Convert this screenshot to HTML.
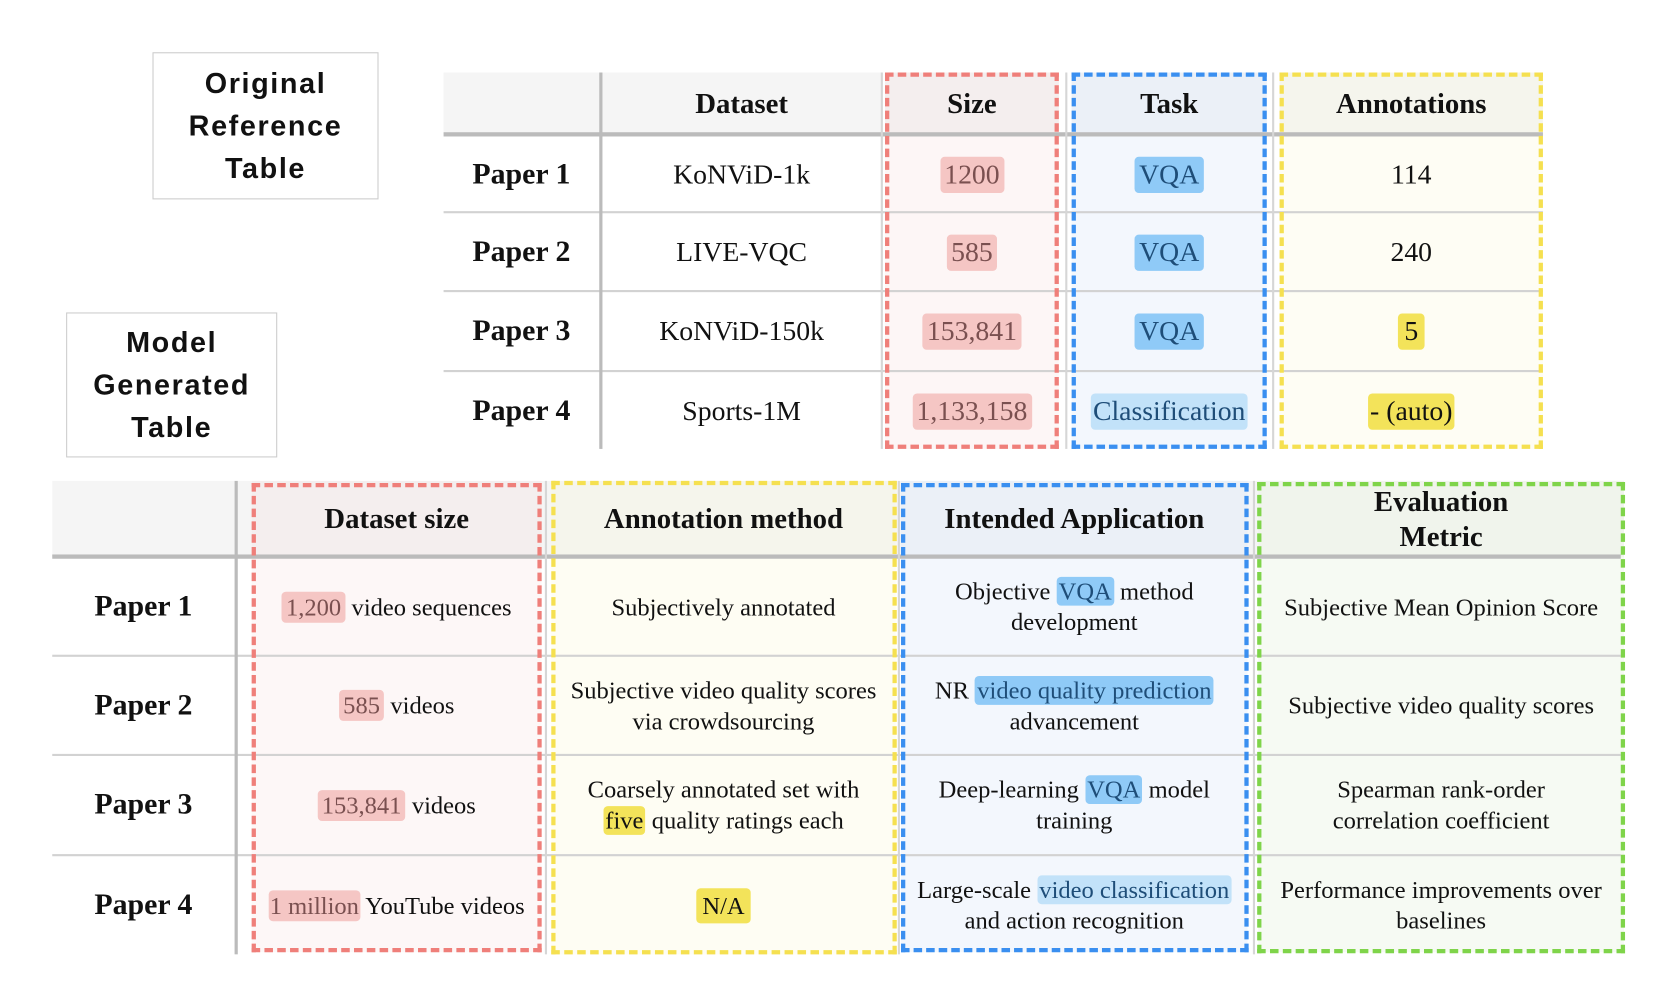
<!DOCTYPE html>
<html><head><meta charset="utf-8"><style>
html,body{margin:0;padding:0;background:#fff;}
body{width:1672px;height:1006px;overflow:hidden;position:relative;}
#w{position:absolute;left:0;top:0;width:1568px;height:944px;transform:scale(1.0663);transform-origin:0 0;font-family:"Liberation Serif",serif;color:#111;}
.a{position:absolute;box-sizing:border-box;}
.lbl{border:1.5px solid #ccc;font-family:"Liberation Sans",sans-serif;font-weight:900;font-size:27px;letter-spacing:1.5px;text-align:center;display:flex;align-items:center;justify-content:center;line-height:40px;background:#fff;}
.c{position:absolute;box-sizing:border-box;display:flex;align-items:center;justify-content:center;text-align:center;}
.t{font-size:26px;}
.b{font-size:23px;line-height:29px;}
.h{font-weight:bold;font-size:27px;}
.pr{font-weight:bold;font-size:28px;}
.r{background:#f5c6c4;color:#7a5050;border-radius:4px;padding:2px 4px;}
.bl{background:#8fcaf7;color:#1e4d78;border-radius:4px;padding:2px 4px;}
.bl2{background:#c2e2f9;color:#1e4d78;border-radius:4px;padding:2px 4px;}
.y{background:#f3e35a;border-radius:4px;padding:2px 6px;}
.hl{background:#bbb;}
.ln{background:#d2d2d2;}
.vl{background:#d6d6d6;}
</style></head><body><div id="w">

<div class="a lbl" style="left:143px;top:49px;width:212px;height:138px;">Original<br>Reference<br>Table</div>
<div class="a lbl" style="left:62px;top:293px;width:198px;height:136px;">Model<br>Generated<br>Table</div>

<!-- TOP TABLE -->
<div class="a" style="left:416px;top:68px;width:411px;height:58px;background:#f5f5f5;"></div>
<div class="a" style="left:830px;top:68px;width:163px;height:353px;background:#fdf6f6;"></div>
<div class="a" style="left:830px;top:68px;width:163px;height:58px;background:#f4eeee;"></div>
<div class="a" style="left:1005px;top:68px;width:183px;height:353px;background:#f3f7fd;"></div>
<div class="a" style="left:1005px;top:68px;width:183px;height:58px;background:#ebf0f7;"></div>
<div class="a" style="left:1200px;top:68px;width:247px;height:353px;background:#fefdf4;"></div>
<div class="a" style="left:1200px;top:68px;width:247px;height:58px;background:#f5f5ed;"></div>

<div class="a hl" style="left:416px;top:124px;width:1031px;height:4px;"></div>
<div class="a ln" style="left:416px;top:198px;width:1031px;height:2px;"></div>
<div class="a ln" style="left:416px;top:272px;width:1031px;height:2px;"></div>
<div class="a ln" style="left:416px;top:347px;width:1031px;height:2px;"></div>
<div class="a hl" style="left:562px;top:68px;width:3px;height:353px;"></div>
<div class="a vl" style="left:826px;top:68px;width:1.5px;height:353px;"></div>
<div class="a vl" style="left:999px;top:68px;width:1.5px;height:353px;"></div>
<div class="a vl" style="left:1193px;top:68px;width:1.5px;height:353px;"></div>

<div class="a" style="left:830px;top:68px;width:163px;height:353px;border:4px dashed #ef7f7a;"></div>
<div class="a" style="left:1005px;top:68px;width:183px;height:353px;border:4px dashed #3a8ff0;"></div>
<div class="a" style="left:1200px;top:68px;width:247px;height:353px;border:4px dashed #f5e050;"></div>

<div class="c t h" style="left:564px;top:68px;width:263px;height:58px;">Dataset</div>
<div class="c t h" style="left:830px;top:68px;width:163px;height:58px;">Size</div>
<div class="c t h" style="left:1005px;top:68px;width:183px;height:58px;">Task</div>
<div class="c t h" style="left:1200px;top:68px;width:247px;height:58px;">Annotations</div>

<div class="c pr" style="left:416px;top:128px;width:146px;height:71px;">Paper 1</div>
<div class="c pr" style="left:416px;top:200px;width:146px;height:73px;">Paper 2</div>
<div class="c pr" style="left:416px;top:274px;width:146px;height:74px;">Paper 3</div>
<div class="c pr" style="left:416px;top:349px;width:146px;height:74px;">Paper 4</div>

<div class="c t" style="left:564px;top:128px;width:263px;height:71px;">KoNViD-1k</div>
<div class="c t" style="left:564px;top:200px;width:263px;height:73px;">LIVE-VQC</div>
<div class="c t" style="left:564px;top:274px;width:263px;height:74px;">KoNViD-150k</div>
<div class="c t" style="left:564px;top:349px;width:263px;height:74px;">Sports-1M</div>

<div class="c t" style="left:830px;top:128px;width:163px;height:71px;"><span class="r">1200</span></div>
<div class="c t" style="left:830px;top:200px;width:163px;height:73px;"><span class="r">585</span></div>
<div class="c t" style="left:830px;top:274px;width:163px;height:74px;"><span class="r">153,841</span></div>
<div class="c t" style="left:830px;top:349px;width:163px;height:74px;"><span class="r">1,133,158</span></div>

<div class="c t" style="left:1005px;top:128px;width:183px;height:71px;"><span class="bl">VQA</span></div>
<div class="c t" style="left:1005px;top:200px;width:183px;height:73px;"><span class="bl">VQA</span></div>
<div class="c t" style="left:1005px;top:274px;width:183px;height:74px;"><span class="bl">VQA</span></div>
<div class="c t" style="left:1005px;top:349px;width:183px;height:74px;"><span class="bl2" style="padding:2px 2px">Classification</span></div>

<div class="c t" style="left:1200px;top:128px;width:247px;height:71px;">114</div>
<div class="c t" style="left:1200px;top:200px;width:247px;height:73px;">240</div>
<div class="c t" style="left:1200px;top:274px;width:247px;height:74px;"><span class="y">5</span></div>
<div class="c t" style="left:1200px;top:349px;width:247px;height:74px;"><span class="y" style="padding:2px 2px">- (auto)</span></div>

<!-- BOTTOM TABLE -->
<div class="a" style="left:49px;top:451px;width:1471px;height:71px;background:#f5f5f5;"></div>
<div class="a" style="left:236px;top:451px;width:272px;height:442px;background:#fdf7f7;"></div>
<div class="a" style="left:236px;top:451px;width:272px;height:71px;background:#f4eeee;"></div>
<div class="a" style="left:517px;top:451px;width:323px;height:444px;background:#fefdf3;"></div>
<div class="a" style="left:517px;top:451px;width:323px;height:71px;background:#f5f5ec;"></div>
<div class="a" style="left:845px;top:451px;width:325px;height:442px;background:#f3f7fd;"></div>
<div class="a" style="left:845px;top:451px;width:325px;height:71px;background:#ebf0f7;"></div>
<div class="a" style="left:1180px;top:451px;width:343px;height:442px;background:#f6faf3;"></div>
<div class="a" style="left:1180px;top:451px;width:343px;height:71px;background:#f0f4ec;"></div>

<div class="a hl" style="left:49px;top:520px;width:1471px;height:4px;"></div>
<div class="a ln" style="left:49px;top:614px;width:1471px;height:2px;"></div>
<div class="a ln" style="left:49px;top:707px;width:1471px;height:2px;"></div>
<div class="a ln" style="left:49px;top:801px;width:1471px;height:2px;"></div>
<div class="a hl" style="left:220px;top:451px;width:3px;height:444px;"></div>
<div class="a vl" style="left:511px;top:451px;width:1.5px;height:444px;"></div>
<div class="a vl" style="left:842px;top:451px;width:1.5px;height:444px;"></div>
<div class="a vl" style="left:1175px;top:451px;width:1.5px;height:444px;"></div>

<div class="a" style="left:236px;top:453px;width:272px;height:440px;border:4px dashed #ef7f7a;"></div>
<div class="a" style="left:517px;top:451px;width:324px;height:444px;border:4px dashed #f5e050;"></div>
<div class="a" style="left:845px;top:453px;width:326px;height:440px;border:4px dashed #3a8ff0;"></div>
<div class="a" style="left:1179px;top:452px;width:345px;height:442px;border:4px dashed #7fd44a;"></div>

<div class="c t h" style="left:236px;top:451px;width:272px;height:71px;">Dataset size</div>
<div class="c t h" style="left:517px;top:451px;width:323px;height:71px;">Annotation method</div>
<div class="c t h" style="left:845px;top:451px;width:325px;height:71px;">Intended Application</div>
<div class="c t h" style="left:1180px;top:451px;width:343px;height:71px;line-height:33px;">Evaluation<br>Metric</div>

<div class="c pr" style="left:49px;top:524px;width:171px;height:90px;">Paper 1</div>
<div class="c pr" style="left:49px;top:616px;width:171px;height:91px;">Paper 2</div>
<div class="c pr" style="left:49px;top:709px;width:171px;height:92px;">Paper 3</div>
<div class="c pr" style="left:49px;top:803px;width:171px;height:92px;">Paper 4</div>

<div class="c b" style="left:236px;top:524px;width:272px;height:90px;white-space:nowrap;"><span><span class="r">1,200</span> video sequences</span></div>
<div class="c b" style="left:236px;top:616px;width:272px;height:91px;"><span><span class="r">585</span> videos</span></div>
<div class="c b" style="left:236px;top:709px;width:272px;height:92px;"><span><span class="r">153,841</span> videos</span></div>
<div class="c b" style="left:236px;top:803px;width:272px;height:92px;white-space:nowrap;"><span><span class="r" style="padding:2px 1px">1 million</span> YouTube videos</span></div>

<div class="c b" style="left:517px;top:524px;width:323px;height:90px;">Subjectively annotated</div>
<div class="c b" style="left:517px;top:616px;width:323px;height:91px;white-space:nowrap;">Subjective video quality scores<br>via crowdsourcing</div>
<div class="c b" style="left:517px;top:709px;width:323px;height:92px;white-space:nowrap;"><span>Coarsely annotated set with<br><span class="y" style="padding:1px 2px">five</span> quality ratings each</span></div>
<div class="c b" style="left:517px;top:803px;width:323px;height:92px;"><span class="y">N/A</span></div>

<div class="c b" style="left:845px;top:524px;width:325px;height:90px;white-space:nowrap;"><span>Objective <span class="bl" style="padding:1px 2px">VQA</span> method<br>development</span></div>
<div class="c b" style="left:845px;top:616px;width:325px;height:91px;white-space:nowrap;"><span>NR <span class="bl" style="padding:1px 2px">video quality prediction</span><br>advancement</span></div>
<div class="c b" style="left:845px;top:709px;width:325px;height:92px;white-space:nowrap;"><span>Deep-learning <span class="bl" style="padding:1px 2px">VQA</span> model<br>training</span></div>
<div class="c b" style="left:845px;top:803px;width:325px;height:92px;white-space:nowrap;"><span>Large-scale <span class="bl2" style="padding:1px 2px">video classification</span><br>and action recognition</span></div>

<div class="c b" style="left:1180px;top:524px;width:343px;height:90px;white-space:nowrap;">Subjective Mean Opinion Score</div>
<div class="c b" style="left:1180px;top:616px;width:343px;height:91px;white-space:nowrap;">Subjective video quality scores</div>
<div class="c b" style="left:1180px;top:709px;width:343px;height:92px;">Spearman rank-order<br>correlation coefficient</div>
<div class="c b" style="left:1180px;top:803px;width:343px;height:92px;white-space:nowrap;">Performance improvements over<br>baselines</div>

</div></body></html>
